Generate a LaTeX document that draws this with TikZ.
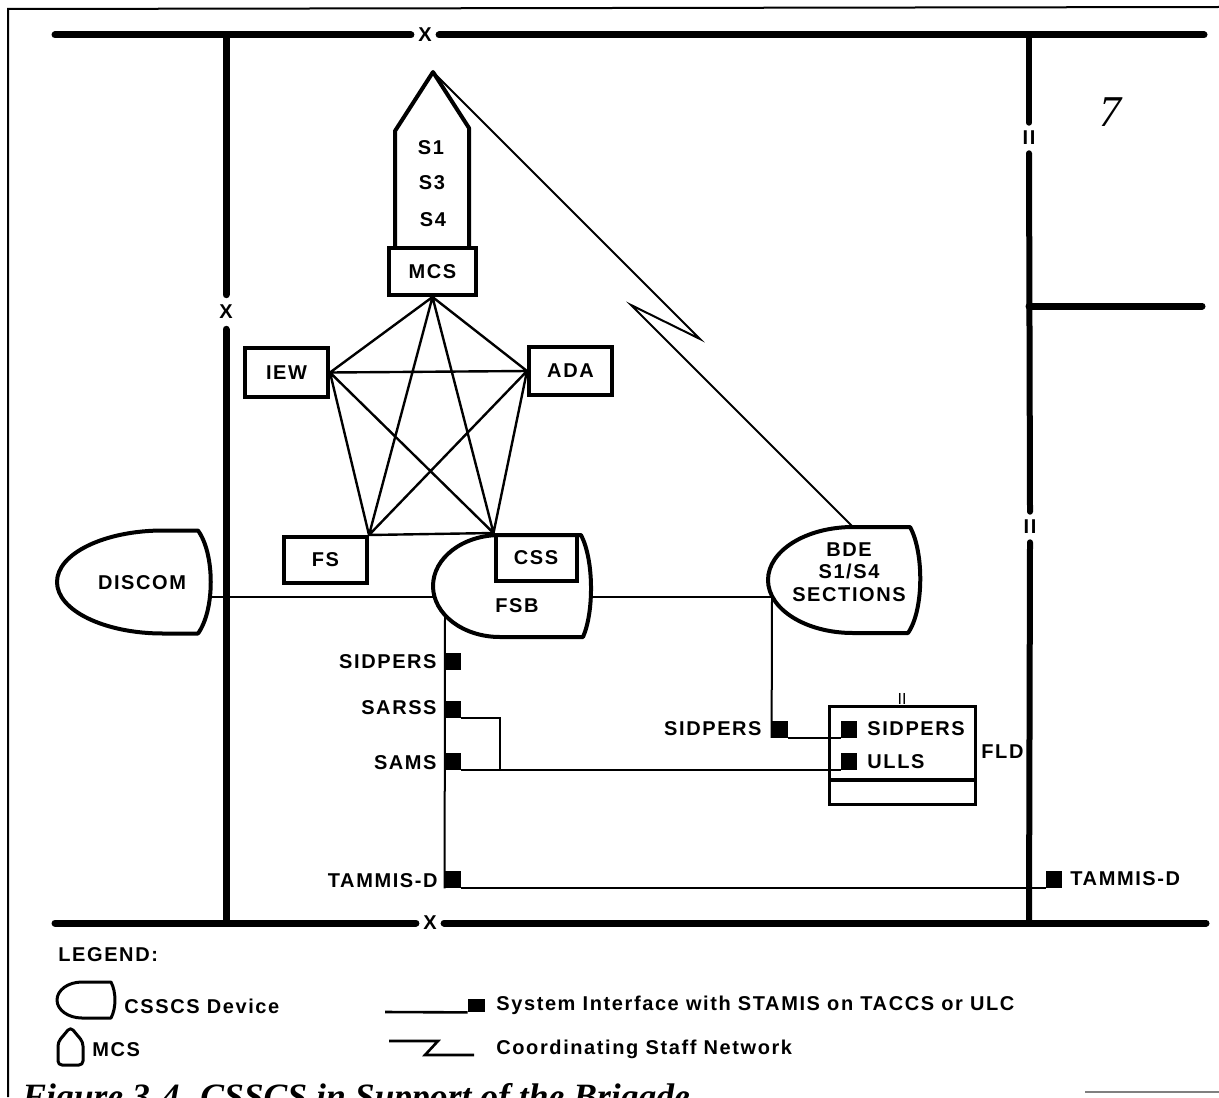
\documentclass[tikz,border=0pt]{standalone}
\usepackage{fontspec}
\setmainfont{Liberation Sans}
\newfontfamily\labf[LetterSpace=8]{Liberation Sans}
\newfontfamily\capf{Liberation Serif}
\begin{document}
\begin{tikzpicture}[x=0.5pt,y=-0.5pt,
  every node/.style={inner sep=0pt},
  lbl/.style={font=\labf\bfseries\fontsize{10}{11.25}\selectfont, inner sep=0pt},
  boxed/.style={draw, line width=2pt, lbl},
  dev/.style={line width=2pt, line join=round},
  conn/.style={line width=1.2pt},
  wire/.style={line width=1pt},
  heavy/.style={line width=3.5pt, line cap=round},
  sq/.style={fill=black, inner sep=0pt, minimum width=8pt, minimum height=8.5pt},
  xmark/.style={lbl, inner sep=3.5pt},
  iimark/.style={lbl, inner sep=4pt}
]
\useasboundingbox (0,0) rectangle (1219,1097);
\clip (0,0) rectangle (1219,1097);

% frame
\draw[line width=1pt] (8,1097) -- (8,9) -- (1219,7);
\draw[line width=0.8pt, gray] (1085,1092) -- (1219,1092);

% boundary lines
\coordinate (tl) at (55,35);
\coordinate (tr) at (1204,35);
\node[xmark] (xt) at (425,35) {X};
\draw[heavy] (tl) -- (xt.west);
\draw[heavy] (xt.east) -- (tr);

\coordinate (bl) at (55,923);
\coordinate (br) at (1206,923);
\node[xmark] (xb) at (430,923) {X};
\draw[heavy] (bl) -- (xb.west);
\draw[heavy] (xb.east) -- (br);

\coordinate (lvt) at (226,35);
\coordinate (lvb) at (226,923);
\node[xmark, inner sep=5pt] (xl) at (226,312) {X};
\draw[heavy] (lvt) -- (xl.north);
\draw[heavy] (xl.south) -- (lvb);

\coordinate (rvt) at (1029,35);
\coordinate (rvb) at (1029,923);
\node[iimark] (ii1) at (1029,138) {II};
\node[iimark] (ii2) at (1030,527) {II};
\draw[heavy, line width=3pt] (rvt) -- (ii1.north);
\draw[heavy, line width=3pt] (ii1.south) -- (ii2.north);
\draw[heavy, line width=3pt] (ii2.south) -- (rvb);
\coordinate (rbj) at (1029,306);
\coordinate (rbe) at (1202,306);
\draw[heavy] (rbj) -- (rbe);

\node[font=\capf\itshape\fontsize{22}{22}\selectfont] (hw) at (1110,112) {7};

% MCS
\node[boxed, minimum width=43.5pt, minimum height=23.5pt] (mcs) at (432.5,271.5) {MCS};
\coordinate (apex) at (433,72);
\draw[dev] (395,248) -- (395,131) -- (apex) -- (469,128) -- (469,248);
\node[lbl] (s1) at (431,148) {S1};
\node[lbl] (s3) at (432,183) {S3};
\node[lbl] (s4) at (433,220) {S4};

% CSSCS devices
\draw[dev] (198,530.5) -- (163,530.5) arc[start angle=90, end angle=270, x radius=53pt, y radius=25.75pt]
  -- (198,633.5) .. controls (215,610) and (215,554) .. (198,530.5) -- cycle;
\node[lbl] (discom) at (142,583) {DISCOM};

\draw[dev] (581,535) -- (500,535) arc[start angle=90, end angle=270, x radius=33.5pt, y radius=25.5pt]
  -- (583,637) .. controls (594,612) and (594,560) .. (581,535) -- cycle;
\node[lbl] (fsb) at (517,606) {FSB};

\draw[dev] (910,527) -- (853,527) arc[start angle=90, end angle=270, x radius=42.5pt, y radius=26.5pt]
  -- (908,633) .. controls (924,610) and (924,552) .. (910,527) -- cycle;
\node[lbl, align=center] (bde) at (849,572) {BDE\\S1/S4\\SECTIONS};

% staff boxes
\node[boxed, minimum width=41.5pt, minimum height=24.5pt] (iew) at (286.5,372.5) {IEW};
\node[boxed, minimum width=41.5pt, minimum height=24pt] (ada) at (570.5,371) {ADA};
\node[boxed, minimum width=41.5pt, minimum height=23pt] (fs) at (325.5,560) {FS};
\node[boxed, minimum width=40.5pt, minimum height=23pt] (css) at (536,558) {CSS};

\draw[conn] (mcs.south) -- (iew.east) (mcs.south) -- (ada.west)
  (mcs.south) -- (fs.north east) (mcs.south) -- (css.north west)
  (iew.east) -- (ada.west) (iew.east) -- (fs.north east) (iew.east) -- (css.north west)
  (ada.west) -- (fs.north east) (ada.west) -- (css.north west)
  (fs.north east) -- (css.north west);

% coordinating staff network
\coordinate (z1) at (700,339);
\coordinate (z2) at (631,305);
\coordinate (bdeN) at (853,527);
\draw[wire] (apex) -- (z1) -- (z2) -- (bdeN);

% device links
\coordinate (discomE) at (209,597);
\coordinate (fsbW) at (435,597);
\coordinate (fsbE) at (591,597);
\coordinate (bdeW) at (772,597);
\coordinate (fsbS) at (445,615);
\draw[wire] (discomE) -- (fsbW);
\draw[wire] (fsbE) -- (bdeW);

% STAMIS interfaces (FSB)
\node[sq] (sqSid) at (453,661.5) {};
\node[sq] (sqSar) at (453,709.5) {};
\node[sq] (sqSam) at (453,761) {};
\node[sq] (sqTam) at (453,879.5) {};
\node[lbl, anchor=east] (lSid) at (437,662) {SIDPERS};
\node[lbl, anchor=east] (lSar) at (437,708) {SARSS};
\node[lbl, anchor=east] (lSam) at (437,763) {SAMS};
\node[lbl, anchor=east] (lTam) at (438,881) {TAMMIS-D};
\draw[wire] (fsbS) -- (sqTam.south west);
\coordinate (sj) at (500,769.5);
\draw[wire] (sqSar.south east) -| (sj);

% FLD
\node[draw, line width=1.5pt, minimum width=73pt, minimum height=49pt] (fld) at (902,755) {};
\draw[line width=2pt] (829,780) -- (975,780);
\node[font=\fontsize{8}{8}\selectfont] (fldii) at (902,699) {II};
\node[lbl, anchor=west] (fldl) at (981,752) {FLD};
\node[sq] (sqFS) at (849,729) {};
\node[sq] (sqUL) at (849,761) {};
\node[lbl, anchor=west] (lFS) at (867,729) {SIDPERS};
\node[lbl, anchor=west] (lUL) at (867,762) {ULLS};
\node[sq] (sqO) at (780,729) {};
\node[lbl, anchor=east] (lO) at (762,729) {SIDPERS};
\draw[wire] (bdeW) -- (sqO.south west);
\draw[wire] (sqO.south east) -- (sqFS.south west);
\draw[wire] (sqSam.south east) -- (sqUL.south west);

\node[sq] (sqTR) at (1054,879.5) {};
\node[lbl, anchor=west] (lTR) at (1070,879) {TAMMIS-D};
\draw[wire] (sqTam.south east) -- (sqTR.south west);

% legend
\node[lbl, anchor=west] (leg) at (58,955) {LEGEND:};
\draw[dev, line width=1.5pt] (111,982) -- (82,982) arc[start angle=90, end angle=270, x radius=12.5pt, y radius=9pt]
  -- (111,1018) .. controls (116.3,1008) and (116.3,992) .. (111,982) -- cycle;
\node[lbl, anchor=west] (legdev) at (124,1006) {CSSCS Device};
\draw[dev, line width=1.5pt, rounded corners=2pt] (58,1065) -- (58,1042) -- (70.5,1027) -- (83,1042) -- (83,1065) -- cycle;
\node[lbl, anchor=west] (legmcs) at (92,1050) {MCS};

\coordinate (lg1a) at (385,1012);
\node[sq, minimum width=8.5pt, minimum height=6.5pt] (lgsq) at (476.5,1005.5) {};
\draw[wire, line width=1.3pt] (lg1a) -- (lgsq.south west);
\node[lbl, anchor=west] (legsi) at (496,1005) {System Interface with STAMIS on TACCS or ULC};

\coordinate (lz1) at (389,1041);
\coordinate (lz2) at (438,1041);
\coordinate (lz3) at (425,1055);
\coordinate (lz4) at (474,1055);
\draw[wire, line width=1.3pt] (lz1) -- (lz2) -- (lz3) -- (lz4);
\node[lbl, anchor=west] (legcs) at (496,1049) {Coordinating Staff Network};

% caption (cut off at the page edge, as in the reference)
\node[font=\capf\bfseries\itshape\fontsize{17.8}{18}\selectfont, anchor=base west] (cap) at (22,1108) {Figure 3-4. CSSCS in Support of the Brigade};
\end{tikzpicture}
\end{document}
